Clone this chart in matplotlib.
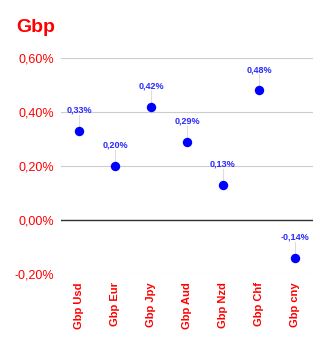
import matplotlib
matplotlib.use("Agg")
import matplotlib.pyplot as plt
from matplotlib.ticker import FuncFormatter

plt.rcParams["font.family"] = ["Liberation Sans", "DejaVu Sans"]

categories = ["Gbp Usd", "Gbp Eur", "Gbp Jpy", "Gbp Aud", "Gbp Nzd", "Gbp Chf", "Gbp cny"]
values = [0.33, 0.20, 0.42, 0.29, 0.13, 0.48, -0.14]
y_ticks = [-0.2, 0.0, 0.2, 0.4, 0.6]

RED = "#ff0000"
BLUE = "#0000ff"

fig = plt.figure(figsize=(3.29, 3.44), dpi=100)
ax = fig.add_axes([61 / 329, 70 / 344, 252 / 329, 216 / 344])

x = list(range(len(categories)))
ax.scatter(x, values, s=46, color=BLUE, zorder=4, linewidths=0)

# labels with thin leader lines
for xi, v in zip(x, values):
    ax.plot([xi, xi], [v, v + 0.06], color="#dddddd", lw=0.8, zorder=2)
    ax.annotate(
        f"{v:.2f}%".replace(".", ","),
        (xi, v),
        xytext=(0, 15),
        textcoords="offset points",
        ha="center",
        va="center",
        fontsize=6.5,
        fontweight="bold",
        color="#2a2aff",
        zorder=5,
    )

ax.set_xlim(-0.5, len(categories) - 0.5)
ax.set_ylim(-0.2, 0.6)
ax.set_yticks(y_ticks)
ax.yaxis.set_major_formatter(FuncFormatter(lambda v, p: f"{v:.2f}%".replace(".", ",")))
ax.set_xticks(x)
ax.set_xticklabels(categories, rotation=90, fontsize=8, fontweight="bold", color=RED)
ax.tick_params(axis="y", labelsize=9, labelcolor=RED, length=0, pad=5)
ax.tick_params(axis="x", length=0, pad=6)

ax.grid(axis="y", color="#cccccc", lw=0.8)
ax.axhline(0, color="#333333", lw=1, zorder=3)
for s in ax.spines.values():
    s.set_visible(False)

fig.text(16 / 329, 1 - 28 / 344, "Gbp", color=RED, fontsize=14, fontweight="bold", va="center")

fig.savefig("out.png", dpi=100)
